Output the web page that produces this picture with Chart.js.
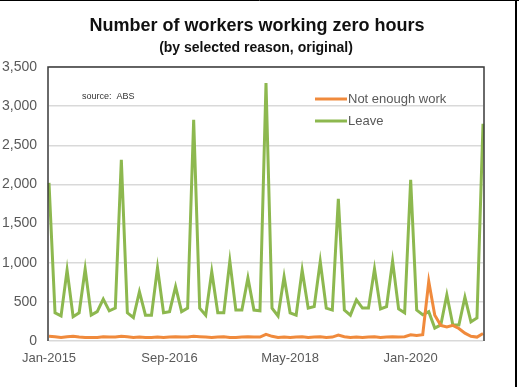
<!DOCTYPE html>
<html>
<head>
<meta charset="utf-8">
<script src="https://cdn.jsdelivr.net/npm/chart.js@4/dist/chart.umd.min.js"></script>
<style>
  html, body { margin: 0; padding: 0; background: #ffffff; }
  #wrap { position: relative; width: 519px; height: 387px; }
</style>
</head>
<body>
<div id="wrap"><canvas id="c" width="519" height="387"></canvas></div>
<script>
const categories = [
  "Jan-2015","Feb-2015","Mar-2015","Apr-2015","May-2015","Jun-2015","Jul-2015","Aug-2015","Sep-2015","Oct-2015","Nov-2015","Dec-2015",
  "Jan-2016","Feb-2016","Mar-2016","Apr-2016","May-2016","Jun-2016","Jul-2016","Aug-2016","Sep-2016","Oct-2016","Nov-2016","Dec-2016",
  "Jan-2017","Feb-2017","Mar-2017","Apr-2017","May-2017","Jun-2017","Jul-2017","Aug-2017","Sep-2017","Oct-2017","Nov-2017","Dec-2017",
  "Jan-2018","Feb-2018","Mar-2018","Apr-2018","May-2018","Jun-2018","Jul-2018","Aug-2018","Sep-2018","Oct-2018","Nov-2018","Dec-2018",
  "Jan-2019","Feb-2019","Mar-2019","Apr-2019","May-2019","Jun-2019","Jul-2019","Aug-2019","Sep-2019","Oct-2019","Nov-2019","Dec-2019",
  "Jan-2020","Feb-2020","Mar-2020","Apr-2020","May-2020","Jun-2020","Jul-2020","Aug-2020","Sep-2020","Oct-2020","Nov-2020","Dec-2020",
  "Jan-2021"
];

const notEnoughWork = [
  60,55,45,55,60,50,45,45,45,55,50,50,
  60,55,45,50,45,45,50,45,50,55,50,50,
  60,55,50,45,50,55,45,45,50,55,50,50,
  85,60,45,50,45,50,55,45,50,55,45,50,
  75,55,45,50,45,50,55,45,50,55,50,55,
  80,70,80,760,330,200,180,200,160,100,60,50,
  95
];

const leave = [
  2020,360,320,905,310,360,920,330,375,535,385,420,
  2315,360,300,630,330,330,935,360,375,695,375,420,
  2825,420,330,885,360,360,1020,395,395,805,395,385,
  3295,420,320,820,360,330,905,420,440,1015,420,395,
  1815,395,330,525,420,420,920,410,440,1020,410,360,
  2060,395,335,375,165,205,590,205,205,560,245,295,
  2775
];

const seriesNames = ["Not enough work", "Leave"];
const seriesColors = ["#f08a3c", "#8db84f"];
const yTicks = [0, 500, 1000, 1500, 2000, 2500, 3000, 3500];
const titleText = "Number of workers working zero hours";
const subtitleText = "(by selected reason, original)";
const sourceText = "source:  ABS";

const FONT = "'Liberation Sans', Arial, sans-serif";

const decor = {
  id: 'decor',
  beforeDraw(chart) {
    const ctx = chart.ctx;
    ctx.save();
    ctx.fillStyle = '#ffffff';
    ctx.fillRect(0, 0, chart.width, chart.height);
    ctx.restore();
  },
  afterDraw(chart) {
    const ctx = chart.ctx;
    const a = chart.chartArea;
    ctx.save();
    // titles
    ctx.fillStyle = '#111111';
    ctx.textAlign = 'center';
    ctx.textBaseline = 'middle';
    ctx.font = 'bold 18px ' + FONT;
    ctx.fillText(titleText, 257, 26);
    ctx.font = 'bold 14px ' + FONT;
    ctx.fillText(subtitleText, 256, 48);
    // source
    ctx.font = '9px ' + FONT;
    ctx.fillStyle = '#333333';
    ctx.textAlign = 'left';
    ctx.fillText(sourceText, 82, 97);
    // legend
    const lx = a.left + 266, ly = 99;
    chart.data.datasets.forEach((ds, i) => {
      const y = ly + i * 22;
      ctx.strokeStyle = ds.borderColor;
      ctx.lineWidth = 3;
      ctx.beginPath();
      ctx.moveTo(lx, y);
      ctx.lineTo(lx + 32, y);
      ctx.stroke();
      ctx.fillStyle = '#595959';
      ctx.font = '13px ' + FONT;
      ctx.textAlign = 'left';
      ctx.textBaseline = 'middle';
      ctx.fillText(ds.label, lx + 33, y);
    });
    // plot frame
    ctx.strokeStyle = '#3a3a3a';
    ctx.lineWidth = 1.5;
    ctx.beginPath();
    ctx.moveTo(a.left - 1, a.bottom);
    ctx.lineTo(a.left - 1, a.top);
    ctx.lineTo(a.right + 1, a.top);
    ctx.lineTo(a.right + 1, a.bottom);
    ctx.stroke();
    // outer frame
    ctx.strokeStyle = '#000000';
    ctx.lineWidth = 1;
    ctx.beginPath();
    ctx.moveTo(0, 0.5);
    ctx.lineTo(519, 0.5);
    ctx.stroke();
    ctx.lineWidth = 2;
    ctx.beginPath();
    ctx.moveTo(516, 0);
    ctx.lineTo(516, 387);
    ctx.stroke();
    ctx.restore();
  }
};

new Chart(document.getElementById('c'), {
  type: 'line',
  data: {
    labels: categories,
    datasets: [
      { label: seriesNames[0], data: notEnoughWork, borderColor: seriesColors[0], backgroundColor: seriesColors[0],
        borderWidth: 3, pointRadius: 0, tension: 0, fill: false },
      { label: seriesNames[1], data: leave, borderColor: seriesColors[1], backgroundColor: seriesColors[1],
        borderWidth: 3, pointRadius: 0, tension: 0, fill: false }
    ]
  },
  options: {
    responsive: false,
    animation: false,
    devicePixelRatio: 1,
    layout: { padding: { top: 67, right: 36, bottom: 0, left: 0 } },
    plugins: {
      legend: { display: false },
      title: { display: false },
      tooltip: { enabled: false }
    },
    scales: {
      x: {
        type: 'category',
        offset: false,
        grid: { display: false, drawTicks: false },
        border: { display: false },
        ticks: {
          autoSkip: false,
          maxRotation: 0,
          minRotation: 0,
          padding: 10,
          color: '#595959',
          font: { family: FONT, size: 13 },
          callback: function(v, i) { return i % 20 === 0 ? categories[i] : null; }
        },
        afterFit(s) { s.height = 46; }
      },
      y: {
        min: 0,
        max: 3500,
        afterBuildTicks(s) { s.ticks = yTicks.map(v => ({ value: v })); },
        grid: { color: '#d9d9d9', lineWidth: 1.5, drawTicks: false },
        border: { display: false },
        ticks: {
          padding: 12,
          color: '#595959',
          font: { family: FONT, size: 14 },
          callback: v => v.toLocaleString('en-US')
        },
        afterFit(s) { s.width = 49; }
      }
    }
  },
  plugins: [decor]
});
</script>
</body>
</html>
